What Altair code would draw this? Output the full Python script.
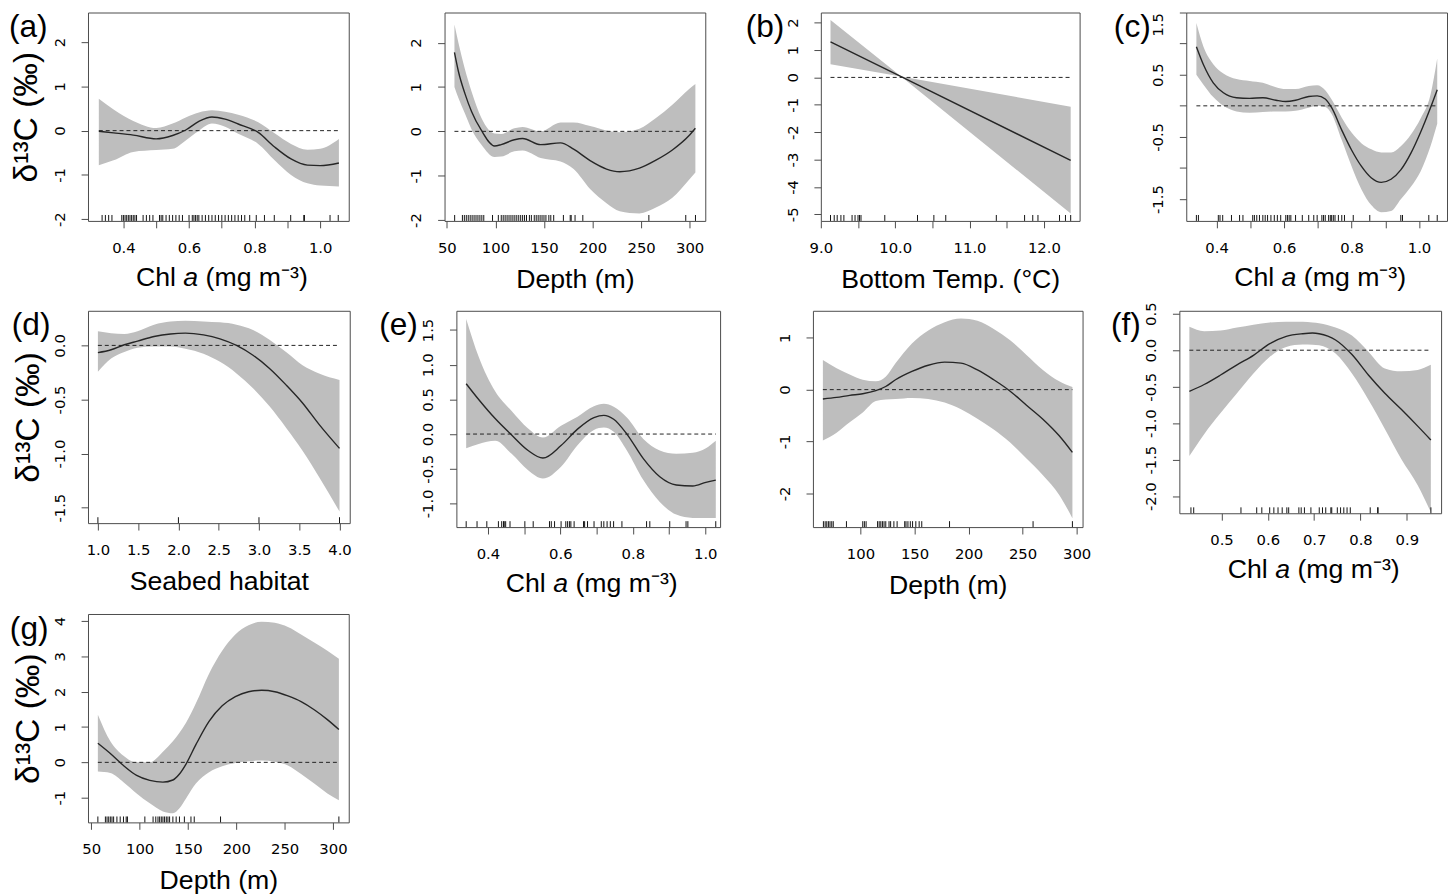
import json
import altair as alt
import pandas as pd

# ---------------- data ----------------
# (a) Chl a
a_x   = [0.325, 0.37, 0.43, 0.50, 0.55, 0.59, 0.63, 0.67, 0.71, 0.75, 0.811, 0.861, 0.911, 0.961, 1.0, 1.057]
a_fit = [-0.015, -0.05, -0.10, -0.185, -0.11, 0.015, 0.21, 0.31, 0.26, 0.15, -0.04, -0.37, -0.64, -0.78, -0.79, -0.73]
a_hi  = [0.72, 0.48, 0.22, 0.06, 0.16, 0.30, 0.41, 0.46, 0.43, 0.36, 0.19, -0.06, -0.30, -0.43, -0.41, -0.19]
a_lo  = [-0.78, -0.67, -0.48, -0.44, -0.41, -0.22, 0.0, 0.16, 0.09, -0.07, -0.30, -0.67, -1.0, -1.19, -1.24, -1.26]
a_rug = [0.335, 0.345, 0.355, 0.365, 0.395, 0.40, 0.405, 0.41, 0.415, 0.42, 0.425, 0.43, 0.435, 0.44,
         0.46, 0.47, 0.48, 0.49, 0.51, 0.515, 0.52, 0.53, 0.54, 0.55, 0.56, 0.57, 0.58, 0.60, 0.61,
         0.615, 0.62, 0.625, 0.63, 0.64, 0.65, 0.66, 0.67, 0.68, 0.69, 0.70, 0.71, 0.72, 0.73, 0.74,
         0.75, 0.76, 0.77, 0.785, 0.805, 0.83, 0.86, 0.91, 0.95, 0.952, 1.03, 1.055]

# depth, first row
p_x   = [57.8, 61.9, 68.6, 75.4, 85.6, 99.2, 105.9, 119.5, 128, 146.6, 167, 180.5, 197.5, 214.4, 228, 248.3, 265.3, 282.2, 299.2, 305.9]
p_fit = [1.78, 1.35, 0.85, 0.45, 0.02, -0.33, -0.30, -0.19, -0.16, -0.30, -0.26, -0.40, -0.66, -0.85, -0.91, -0.83, -0.65, -0.42, -0.10, 0.07]
p_hi  = [2.41, 2.0, 1.4, 0.9, 0.3, -0.05, -0.06, 0.07, 0.10, 0.0, 0.20, 0.20, 0.12, 0.02, -0.02, 0.06, 0.30, 0.60, 0.95, 1.07]
p_lo  = [1.0, 0.75, 0.4, 0.05, -0.3, -0.58, -0.57, -0.45, -0.43, -0.6, -0.68, -0.85, -1.3, -1.62, -1.8, -1.85, -1.72, -1.5, -1.1, -0.93]
p_rug = [58, 66, 68, 70, 72, 74, 76, 78, 80, 82, 84, 86, 88, 97, 103, 106, 108, 110, 112, 114, 116,
         118, 120, 122, 124, 126, 128, 130, 132, 135, 137, 140, 142, 144, 146, 148, 150, 152, 155,
         157, 160, 170, 177, 178, 182, 190, 258, 296, 306]

# (b) bottom temperature
b_x   = [9.13, 10.08, 12.36]
b_fit = [1.30, 0.03, -3.03]
b_hi  = [2.10, 0.03, -1.07]
b_lo  = [0.48, 0.03, -4.97]
b_rug = [9.13, 9.18, 9.22, 9.27, 9.31, 9.42, 9.46, 9.50, 9.52, 9.54, 9.86, 10.30, 10.52, 10.68,
         11.36, 11.74, 11.85, 11.92, 12.21, 12.29, 12.36]

# (c) Chl a
c_x   = [0.34, 0.361, 0.39, 0.42, 0.459, 0.498, 0.537, 0.576, 0.605, 0.634, 0.673, 0.698, 0.722,
         0.741, 0.771, 0.80, 0.829, 0.859, 0.888, 0.917, 0.946, 0.976, 1.005, 1.034, 1.054]
c_fit = [0.95, 0.66, 0.37, 0.21, 0.13, 0.12, 0.13, 0.09, 0.07, 0.09, 0.15, 0.16, 0.11, -0.03, -0.39,
         -0.71, -0.97, -1.16, -1.23, -1.18, -1.03, -0.76, -0.42, -0.03, 0.26]
c_hi  = [1.33, 0.95, 0.67, 0.52, 0.43, 0.40, 0.37, 0.30, 0.27, 0.27, 0.32, 0.33, 0.25, 0.10, -0.19,
         -0.43, -0.60, -0.70, -0.75, -0.75, -0.65, -0.46, -0.20, 0.18, 0.76]
c_lo  = [0.50, 0.34, 0.14, 0.0, -0.09, -0.11, -0.10, -0.09, -0.09, -0.08, -0.03, 0.0, -0.02, -0.13,
         -0.55, -0.97, -1.34, -1.60, -1.71, -1.69, -1.50, -1.30, -1.05, -0.65, -0.29]
c_rug = [0.34, 0.346, 0.405, 0.41, 0.418, 0.444, 0.468, 0.478, 0.507, 0.512, 0.519, 0.527, 0.537,
         0.544, 0.551, 0.561, 0.571, 0.58, 0.59, 0.605, 0.61, 0.615, 0.62, 0.634, 0.654, 0.673, 0.688,
         0.698, 0.712, 0.717, 0.722, 0.732, 0.737, 0.741, 0.746, 0.751, 0.761, 0.771, 0.779, 0.805,
         0.854, 0.946, 0.951, 1.029, 1.054]

# (d) seabed habitat
d_x   = [1.0, 1.164, 1.328, 1.492, 1.697, 1.902, 2.086, 2.311, 2.516, 2.721, 2.926, 3.131, 3.336, 3.541, 3.746, 4.0]
d_fit = [-0.067, -0.04, 0.006, 0.04, 0.082, 0.106, 0.113, 0.097, 0.061, 0.0, -0.091, -0.213, -0.365, -0.532, -0.73, -0.952]
d_hi  = [0.131, 0.113, 0.106, 0.131, 0.192, 0.222, 0.228, 0.222, 0.213, 0.192, 0.143, 0.052, -0.061, -0.183, -0.259, -0.319]
d_lo  = [-0.243, -0.122, -0.061, -0.021, -0.009, -0.009, -0.03, -0.076, -0.152, -0.259, -0.396, -0.563, -0.761, -0.974, -1.217, -1.536]
d_rug = [1.0, 2.0, 3.0, 4.0]

# (e) Chl a
e_x   = [0.34, 0.3745, 0.42, 0.4655, 0.511, 0.5518, 0.6018, 0.6473, 0.6927, 0.72, 0.7473, 0.7836,
         0.8291, 0.8745, 0.92, 0.9655, 1.0018, 1.0291]
e_fit = [0.725, 0.498, 0.223, -0.014, -0.237, -0.346, -0.166, 0.071, 0.237, 0.27, 0.213, 0.0,
         -0.355, -0.616, -0.735, -0.749, -0.697, -0.664]
e_hi  = [1.659, 1.114, 0.616, 0.332, 0.08, -0.05, 0.12, 0.25, 0.40, 0.436, 0.393, 0.237,
         -0.071, -0.237, -0.284, -0.27, -0.204, -0.095]
e_lo  = [-0.204, -0.142, -0.095, -0.284, -0.521, -0.64, -0.47, -0.16, 0.06, 0.095, 0.033, -0.237,
         -0.664, -0.981, -1.161, -1.209, -1.209, -1.209]
e_rug = [0.34, 0.37, 0.397, 0.429, 0.438, 0.443, 0.445, 0.449, 0.461, 0.502, 0.525, 0.57, 0.575,
         0.584, 0.602, 0.615, 0.62, 0.625, 0.629, 0.638, 0.664, 0.667, 0.675, 0.693, 0.713, 0.72,
         0.729, 0.738, 0.747, 0.77, 0.838, 0.847, 0.902, 0.947, 0.952, 1.029]

# depth, second row
h_x   = [65.2, 77.9, 90, 102.1, 114.2, 123.3, 132.4, 147.6, 162.7, 177.9, 193, 208.2, 223.3, 238.5, 253.6, 268.8, 283.9, 296.1]
h_fit = [-0.18, -0.15, -0.11, -0.08, -0.02, 0.06, 0.19, 0.35, 0.47, 0.53, 0.51, 0.38, 0.19, -0.03, -0.30, -0.57, -0.89, -1.21]
h_hi  = [0.57, 0.41, 0.29, 0.19, 0.16, 0.25, 0.51, 0.89, 1.14, 1.30, 1.37, 1.33, 1.17, 0.95, 0.67, 0.38, 0.16, 0.05]
h_lo  = [-0.98, -0.83, -0.63, -0.44, -0.22, -0.19, -0.18, -0.16, -0.18, -0.25, -0.38, -0.56, -0.77, -1.02, -1.33, -1.65, -2.03, -2.48]
h_rug = [65.7, 67.3, 68.8, 70.3, 71.8, 73.4, 74.8, 87, 102.1, 103.6, 105.2, 115.8, 117.3, 118.8,
         120.3, 121.8, 123.4, 126.4, 127.9, 130.9, 133.9, 140.9, 142.1, 143.9, 146.1, 148.2, 151.2,
         154.3, 156.7, 182.4, 259.7, 296.1]

# (f) Chl a
f_x   = [0.4306, 0.4625, 0.498, 0.5334, 0.5689, 0.6043, 0.6398, 0.6753, 0.6965, 0.7107, 0.7462,
         0.7816, 0.8171, 0.8526, 0.888, 0.9235, 0.9519]
f_fit = [-0.565, -0.47, -0.34, -0.20, -0.07, 0.09, 0.19, 0.226, 0.235, 0.226, 0.14, -0.06, -0.34,
         -0.59, -0.81, -1.04, -1.23]
f_hi  = [0.32, 0.26, 0.27, 0.31, 0.35, 0.38, 0.39, 0.39, 0.38, 0.37, 0.31, 0.20, -0.02, -0.25,
         -0.29, -0.27, -0.20]
f_lo  = [-1.45, -1.15, -0.86, -0.59, -0.32, -0.09, 0.045, 0.077, 0.075, 0.068, -0.045, -0.32,
         -0.68, -1.08, -1.49, -1.85, -2.22]
f_rug = [0.434, 0.44, 0.542, 0.576, 0.587, 0.604, 0.613, 0.622, 0.631, 0.641, 0.645, 0.667, 0.672,
         0.679, 0.693, 0.711, 0.718, 0.725, 0.736, 0.738, 0.75, 0.757, 0.764, 0.771, 0.778, 0.821,
         0.837, 0.838, 0.952]

# (g) depth
g_x   = [56.8, 69.7, 83.3, 96.9, 110.5, 124.1, 134.4, 141.2, 148.0, 158.2, 171.8, 185.4, 199.0,
         212.6, 226.2, 239.8, 253.4, 267.0, 280.6, 294.2, 306.1]
g_fit = [0.54, 0.25, -0.09, -0.37, -0.51, -0.56, -0.50, -0.33, -0.05, 0.50, 1.16, 1.60, 1.86,
         2.00, 2.04, 2.00, 1.88, 1.72, 1.49, 1.21, 0.93]
g_hi  = [1.35, 0.60, 0.19, 0.0, 0.0, 0.30, 0.60, 0.84, 1.12, 1.67, 2.51, 3.16, 3.62, 3.88, 3.98,
         3.95, 3.83, 3.62, 3.39, 3.16, 2.93]
g_lo  = [-0.26, -0.30, -0.56, -0.88, -1.16, -1.39, -1.44, -1.30, -1.02, -0.60, -0.28, -0.11,
         -0.02, 0.03, 0.05, 0.02, -0.09, -0.33, -0.60, -0.88, -1.07]
g_rug = [56.8, 64.6, 66.3, 68.0, 69.7, 71.4, 73.1, 76.5, 79.9, 83.3, 86.1, 87.4, 105.4, 113.9,
         116.7, 119.0, 120.7, 122.4, 124.1, 125.8, 127.6, 129.3, 131.0, 134.4, 137.8, 141.2, 146.3,
         153.1, 156.5, 183.7, 306.1]

# ticks and tick labels
chl_ticks = [0.4, 0.5, 0.6, 0.7, 0.8, 0.9, 1.0]
chl_labels = ["0.4", "", "0.6", "", "0.8", "", "1.0"]
chl_f_ticks = [0.5, 0.6, 0.7, 0.8, 0.9]
chl_f_labels = ["0.5", "0.6", "0.7", "0.8", "0.9"]
depth_ticks = [50, 100, 150, 200, 250, 300]
depth_labels = ["50", "100", "150", "200", "250", "300"]
temp_ticks = [9.0, 9.5, 10.0, 10.5, 11.0, 11.5, 12.0]
temp_labels = ["9.0", "", "10.0", "", "11.0", "", "12.0"]
hab_ticks = [1.0, 1.5, 2.0, 2.5, 3.0, 3.5, 4.0]
hab_labels = ["1.0", "1.5", "2.0", "2.5", "3.0", "3.5", "4.0"]

ya_ticks = [-2, -1, 0, 1, 2]
ya_labels = ["-2", "-1", "0", "1", "2"]
yb_ticks = [-5, -4, -3, -2, -1, 0, 1, 2]
yb_labels = ["-5", "-4", "-3", "-2", "-1", "0", "1", "2"]
yc_ticks = [-1.5, -1.0, -0.5, 0.0, 0.5, 1.0, 1.5]
yc_labels = ["-1.5", "", "-0.5", "", "0.5", "", "1.5"]
yd_ticks = [-1.5, -1.0, -0.5, 0.0]
yd_labels = ["-1.5", "-1.0", "-0.5", "0.0"]
ye_ticks = [-1.0, -0.5, 0.0, 0.5, 1.0, 1.5]
ye_labels = ["-1.0", "-0.5", "0.0", "0.5", "1.0", "1.5"]
yh_ticks = [-2, -1, 0, 1]
yh_labels = ["-2", "-1", "0", "1"]
yf_ticks = [-2.0, -1.5, -1.0, -0.5, 0.0, 0.5]
yf_labels = ["-2.0", "-1.5", "-1.0", "-0.5", "0.0", "0.5"]
yg_ticks = [-1, 0, 1, 2, 3, 4]
yg_labels = ["-1", "0", "1", "2", "3", "4"]

# axis title texts
CHL_PARTS = ["Chl", "a", "(mg m⁻³)"]   # "a" is set in italics
YTITLE = "δ¹³C (‰)"
DEPTH = "Depth (m)"
TEMP = "Bottom Temp. (°C)"
HABITAT = "Seabed habitat"

# ---------------- style ----------------
INK = "#000000"
FRAME = "#4a4a4a"
BAND = "#bebebe"
LINE = "#262626"
TICKFONT = "DejaVu Sans"
TITLEFONT = "Liberation Sans"
XT_SIZE = 27


def lab_expr(ticks, labels):
    return f"{json.dumps(labels)}[indexof({json.dumps(ticks)}, datum.value)]"


def panel(x, fit, lo, hi, rug, xdom, ydom, xt, xl, yt, yl, w, h, xtitle,
          label=None, label_dx=-40, ytitle=None, title_x=-60, L=90, R=8, T=5, Hs=287,
          interp="monotone", top_right=False):
    chl = isinstance(xtitle, list)
    axis_title = None if chl else xtitle
    df = pd.DataFrame({"x": x, "fit": fit, "lo": lo, "hi": hi})
    xs = alt.Scale(domain=xdom, nice=False, zero=False)
    ys = alt.Scale(domain=ydom, nice=False, zero=False)
    xargs = dict(values=xt, labelExpr=lab_expr(xt, xl), domain=False, grid=False,
                 tickSize=7, tickColor=FRAME, tickWidth=1, labelFont=TICKFONT,
                 labelFontSize=15, labelColor=INK, labelPadding=13, labelAngle=0,
                 labelAlign="center", labelBaseline="top", labelFlush=False,
                 labelOverlap=False)
    if chl:
        xargs.update(title=None)
    else:
        xargs.update(title=xtitle, titleFont=TITLEFONT, titleFontSize=XT_SIZE,
                     titleFontWeight="normal", titleColor=INK, titlePadding=11)
    xaxis = alt.Axis(**xargs)
    yargs = dict(values=yt, labelExpr=lab_expr(yt, yl), domain=False, grid=False,
                 tickSize=7, tickColor=FRAME, tickWidth=1, labelFont=TICKFONT,
                 labelFontSize=15, labelColor=INK, labelPadding=14, labelAngle=270,
                 labelBaseline="bottom", labelFlush=False, labelOverlap=False)
    if top_right:
        yargs["labelAlign"] = {"condition": {"test": f"datum.value >= {yt[-1]}", "value": "right"},
                               "value": "center"}
    else:
        yargs["labelAlign"] = "center"
    if ytitle:
        yargs.update(title=ytitle, titleFont=TITLEFONT, titleFontSize=34,
                     titleFontWeight="normal", titleColor=INK, titleAngle=270,
                     titleX=title_x, titleY=h / 2, titleAlign="center",
                     titleBaseline="middle")
    else:
        yargs.update(title=None)
    yaxis = alt.Axis(**yargs)

    def X(f):
        return alt.X(f, type="quantitative", scale=xs, axis=xaxis, title=axis_title)

    def Y(f):
        return alt.Y(f, type="quantitative", scale=ys, axis=yaxis, title=ytitle if ytitle else None)

    band = alt.Chart(df).mark_area(color=BAND, interpolate=interp).encode(
        x=X("x"), y=Y("lo"), y2="hi")
    line = alt.Chart(df).mark_line(color=LINE, strokeWidth=1.4, interpolate=interp).encode(
        x=X("x"), y=Y("fit"))
    zdf = pd.DataFrame({"x0": [x[0]], "x1": [x[-1]], "z": [0]})
    zero = alt.Chart(zdf).mark_rule(color="#222222", strokeWidth=1, strokeDash=[4, 3]).encode(
        x=X("x0"), x2="x1", y=Y("z"))
    rdf = pd.DataFrame({"r": rug})
    rugm = alt.Chart(rdf).mark_rule(color="#111111", strokeWidth=1).encode(
        x=X("r"), y=alt.value(h), y2=alt.value(h - 6))
    sdf = pd.DataFrame({"s": [0]})
    spacer = alt.Chart(sdf).mark_rect(opacity=0).encode(
        x=alt.value(-L), x2=alt.value(w + R), y=alt.value(-T), y2=alt.value(Hs))
    layers = [spacer, band, line, zero, rugm]
    if label:
        ldf = pd.DataFrame({"t": [label]})
        layers.append(alt.Chart(ldf).mark_text(align="right", baseline="top", font=TITLEFONT,
                                               fontSize=32, color=INK).encode(
            x=alt.value(label_dx), y=alt.value(0), text="t:N"))
    if chl:
        # "Chl a (mg m-3)" with an italic "a", centred under the plot
        em = XT_SIZE
        cx = w / 2
        xa = cx - 35.5                 # left edge of the italic "a"
        sp = 0.278 * em
        wa = 0.556 * em
        ty = h + 66
        tdf = pd.DataFrame({"t": xtitle})
        base = alt.Chart(tdf)
        layers.append(base.transform_filter(alt.datum.t == xtitle[0]).mark_text(
            align="right", baseline="alphabetic", font=TITLEFONT, fontSize=em, color=INK).encode(
            x=alt.value(xa - sp), y=alt.value(ty), text="t:N"))
        layers.append(base.transform_filter(alt.datum.t == xtitle[1]).mark_text(
            align="left", baseline="alphabetic", font=TITLEFONT, fontSize=em, fontStyle="italic",
            color=INK).encode(x=alt.value(xa), y=alt.value(ty), text="t:N"))
        layers.append(base.transform_filter(alt.datum.t == xtitle[2]).mark_text(
            align="left", baseline="alphabetic", font=TITLEFONT, fontSize=em, color=INK).encode(
            x=alt.value(xa + wa + sp), y=alt.value(ty), text="t:N"))
    return alt.layer(*layers).properties(width=w, height=h)


A = panel(a_x, a_fit, a_lo, a_hi, a_rug, [0.292, 1.087], [-2.04, 2.67], chl_ticks, chl_labels,
          ya_ticks, ya_labels, 264, 211, CHL_PARTS, label="(a)", label_dx=-41, ytitle=YTITLE,
          title_x=-62, L=80, T=5, Hs=287)
P = panel(p_x, p_fit, p_lo, p_hi, p_rug, [47.6, 316.1], [-2.02, 2.68], depth_ticks, depth_labels,
          ya_ticks, ya_labels, 264, 211, DEPTH, L=86, T=5, Hs=287)
Bt = panel(b_x, b_fit, b_lo, b_hi, b_rug, [9.0, 12.48], [-5.24, 2.37], temp_ticks, temp_labels,
           yb_ticks, yb_labels, 262, 211, TEMP, label="(b)", label_dx=-37,
           L=104, T=5, Hs=287, interp="linear")
C = panel(c_x, c_fit, c_lo, c_hi, c_rug, [0.31, 1.083], [-1.85, 1.5], chl_ticks, chl_labels,
          yc_ticks, yc_labels, 264, 211, CHL_PARTS, label="(c)", label_dx=-36, L=87, R=0, T=5,
          Hs=287, top_right=True)
D = panel(d_x, d_fit, d_lo, d_hi, d_rug, [0.877, 4.127], [-1.643, 0.32], hab_ticks, hab_labels,
          yd_ticks, yd_labels, 265, 215, HABITAT, label="(d)", label_dx=-38,
          ytitle=YTITLE, title_x=-60, L=79, T=13, Hs=293)
E = panel(e_x, e_fit, e_lo, e_hi, e_rug, [0.313, 1.041], [-1.341, 1.777], chl_ticks, chl_labels,
          ye_ticks, ye_labels, 267, 219, CHL_PARTS, label="(e)", label_dx=-39, L=98, T=13, Hs=293)
Hd = panel(h_x, h_fit, h_lo, h_hi, h_rug, [56.0, 305.5], [-2.65, 1.52], depth_ticks, depth_labels,
           yh_ticks, yh_labels, 273, 219, DEPTH, L=84, T=13, Hs=293)
F = panel(f_x, f_fit, f_lo, f_hi, f_rug, [0.409, 0.974], [-2.234, 0.54], chl_f_ticks, chl_f_labels,
          yf_ticks, yf_labels, 265, 205, CHL_PARTS, label="(f)", label_dx=-39, L=88, R=0, T=13, Hs=293)
G = panel(g_x, g_fit, g_lo, g_hi, g_rug, [46.6, 316.3], [-1.7, 4.2], depth_ticks, depth_labels,
          yg_ticks, yg_labels, 264, 211, DEPTH, label="(g)", label_dx=-40, ytitle=YTITLE,
          title_x=-60, L=80, T=12, Hs=278)

chart = alt.concat(A, P, Bt, C, D, E, Hd, F, G, columns=4, spacing=0, bounds="full",
                   align={"row": "each", "column": "none"}).configure_view(
    stroke=FRAME, strokeWidth=1).properties(
    padding={"left": 0, "top": -7, "right": 0, "bottom": 0}, background="white")

chart.save("out.html", embed_options={"renderer": "svg", "actions": False})
